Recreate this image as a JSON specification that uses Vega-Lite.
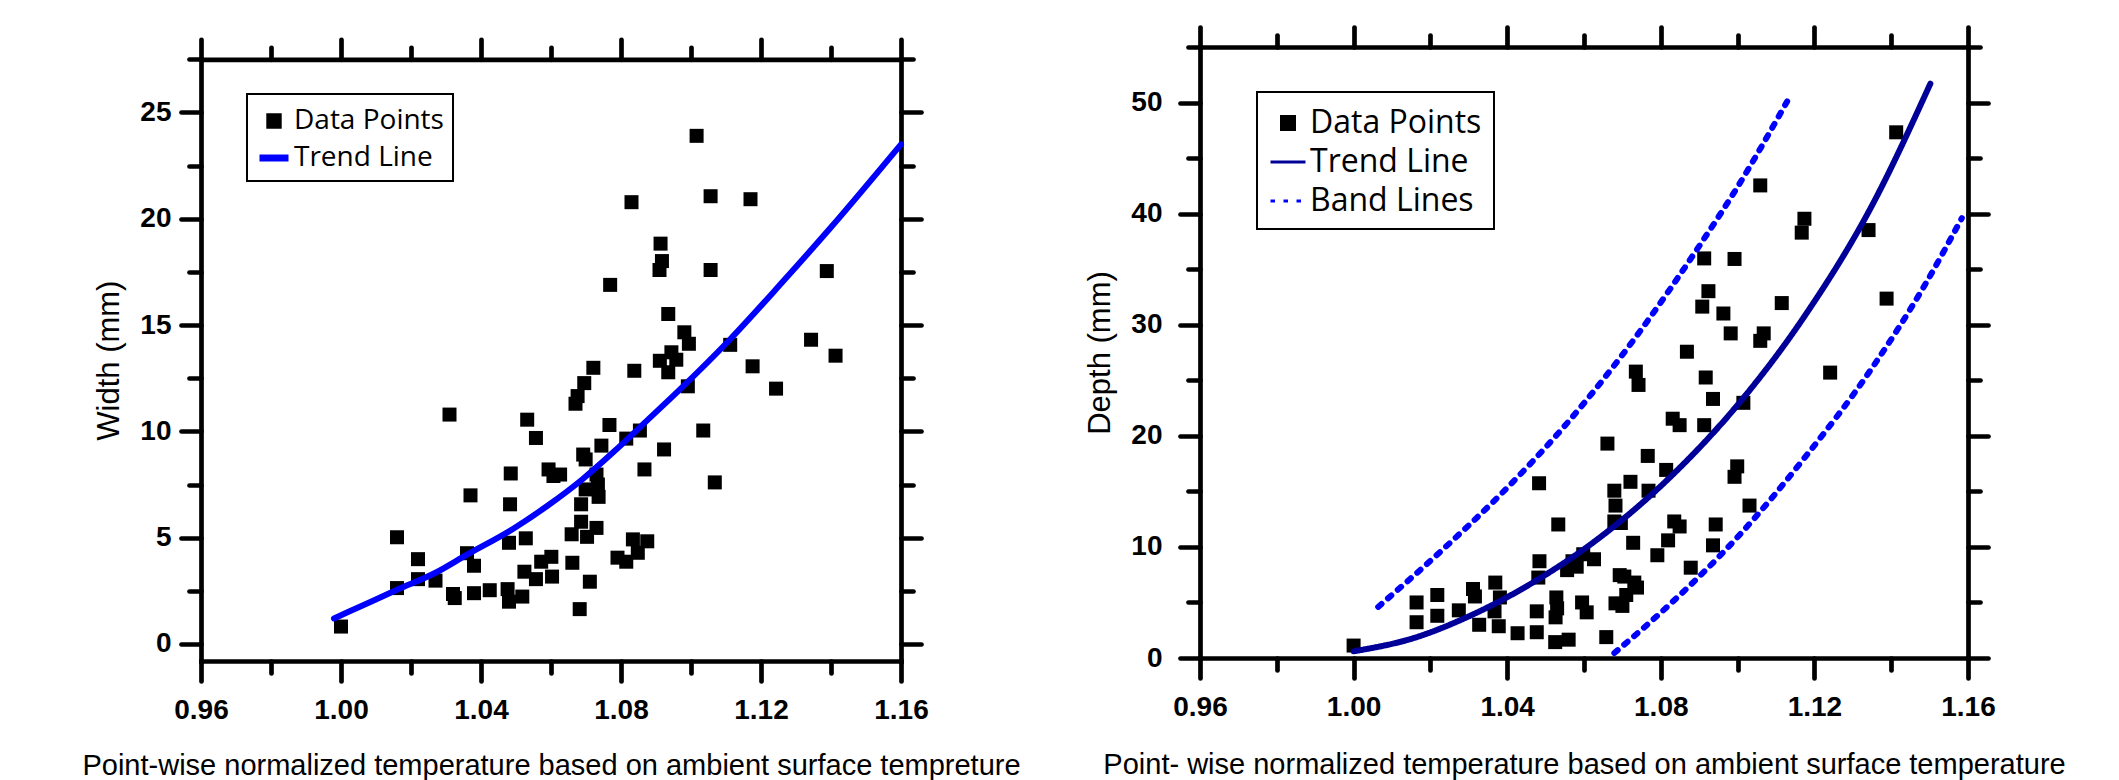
{
  "$schema": "https://vega.github.io/schema/vega-lite/v6.json",
  "padding": {"left": 81, "top": 24, "right": 0, "bottom": 0},
  "background": "white",
  "spacing": 63,
  "align": "none",
  "config": {"view": {"stroke": null}, "axis": {"grid": false}, "legend": {"strokeWidth": 2}},
  "resolve": {"scale": {"x": "independent", "y": "independent", "color": "independent", "shape": "independent", "strokeDash": "independent"}, "legend": {"color": "independent", "shape": "independent", "strokeDash": "independent"}},
  "datasets": {
    "width_points": [
      {"t": 1.000, "w": 0.82}, {"t": 1.016, "w": 5.02}, {"t": 1.016, "w": 2.63}, {"t": 1.022, "w": 3.99}, {"t": 1.022, "w": 3.05},
      {"t": 1.027, "w": 2.98}, {"t": 1.031, "w": 10.79}, {"t": 1.032, "w": 2.35}, {"t": 1.0325, "w": 2.16}, {"t": 1.036, "w": 4.27},
      {"t": 1.038, "w": 3.68}, {"t": 1.037, "w": 6.99}, {"t": 1.038, "w": 2.39}, {"t": 1.0425, "w": 2.53}, {"t": 1.0476, "w": 2.58},
      {"t": 1.048, "w": 1.99}, {"t": 1.048, "w": 4.76}, {"t": 1.0483, "w": 6.57}, {"t": 1.0485, "w": 8.02}, {"t": 1.0518, "w": 2.23},
      {"t": 1.0528, "w": 4.97}, {"t": 1.0524, "w": 3.40}, {"t": 1.0532, "w": 10.55}, {"t": 1.0557, "w": 9.69}, {"t": 1.0557, "w": 3.05},
      {"t": 1.0572, "w": 3.87}, {"t": 1.0601, "w": 4.10}, {"t": 1.0603, "w": 3.17}, {"t": 1.0593, "w": 8.21}, {"t": 1.0607, "w": 7.90},
      {"t": 1.0626, "w": 7.97}, {"t": 1.0661, "w": 3.82}, {"t": 1.0659, "w": 5.16}, {"t": 1.0670, "w": 11.30}, {"t": 1.0676, "w": 11.66},
      {"t": 1.0682, "w": 1.64}, {"t": 1.0686, "w": 5.75}, {"t": 1.0686, "w": 6.57}, {"t": 1.0692, "w": 8.91}, {"t": 1.0695, "w": 12.27},
      {"t": 1.0699, "w": 8.68}, {"t": 1.0699, "w": 7.27}, {"t": 1.0703, "w": 5.04}, {"t": 1.0711, "w": 2.93}, {"t": 1.0721, "w": 12.99},
      {"t": 1.0730, "w": 7.97}, {"t": 1.0734, "w": 7.50}, {"t": 1.0736, "w": 6.92}, {"t": 1.0730, "w": 5.46}, {"t": 1.0744, "w": 9.33},
      {"t": 1.0767, "w": 10.30}, {"t": 1.0769, "w": 16.89}, {"t": 1.0790, "w": 4.06}, {"t": 1.0815, "w": 3.87}, {"t": 1.0815, "w": 9.66},
      {"t": 1.0830, "w": 20.78}, {"t": 1.0838, "w": 12.85}, {"t": 1.0834, "w": 4.92}, {"t": 1.0848, "w": 4.29}, {"t": 1.0854, "w": 10.04},
      {"t": 1.0867, "w": 8.21}, {"t": 1.0875, "w": 4.83}, {"t": 1.0910, "w": 17.59}, {"t": 1.0913, "w": 18.83}, {"t": 1.0917, "w": 18.01},
      {"t": 1.0923, "w": 9.15}, {"t": 1.0911, "w": 13.32}, {"t": 1.0935, "w": 15.52}, {"t": 1.0935, "w": 12.78}, {"t": 1.0944, "w": 13.72},
      {"t": 1.0958, "w": 13.37}, {"t": 1.0981, "w": 14.66}, {"t": 1.0994, "w": 14.12}, {"t": 1.0991, "w": 12.12}, {"t": 1.1016, "w": 23.90},
      {"t": 1.1035, "w": 10.04}, {"t": 1.1056, "w": 21.06}, {"t": 1.1056, "w": 17.59}, {"t": 1.1068, "w": 7.60}, {"t": 1.1112, "w": 14.07},
      {"t": 1.1170, "w": 20.92}, {"t": 1.1176, "w": 13.06}, {"t": 1.1243, "w": 12.01}, {"t": 1.1343, "w": 14.31}, {"t": 1.1388, "w": 17.54},
      {"t": 1.1413, "w": 13.56}
    ],
    "width_trend": [
      {"t": 0.998, "w": 1.2}, {"t": 1.006, "w": 1.8}, {"t": 1.016, "w": 2.55}, {"t": 1.027, "w": 3.35}, {"t": 1.036, "w": 4.2},
      {"t": 1.049, "w": 5.4}, {"t": 1.059, "w": 6.5}, {"t": 1.069, "w": 7.75}, {"t": 1.078, "w": 9.05}, {"t": 1.088, "w": 10.6},
      {"t": 1.097, "w": 12.0}, {"t": 1.111, "w": 14.3}, {"t": 1.126, "w": 17.0}, {"t": 1.14, "w": 19.6}, {"t": 1.16, "w": 23.5}
    ],
    "depth_points": [
      {"t": 1.000, "d": 1.12}, {"t": 1.0164, "d": 5.00}, {"t": 1.0164, "d": 3.22}, {"t": 1.0218, "d": 5.67}, {"t": 1.0218, "d": 3.80},
      {"t": 1.0274, "d": 4.29}, {"t": 1.0311, "d": 6.21}, {"t": 1.0316, "d": 5.54}, {"t": 1.0327, "d": 2.99}, {"t": 1.0369, "d": 6.79},
      {"t": 1.0381, "d": 5.45}, {"t": 1.0367, "d": 4.20}, {"t": 1.0378, "d": 2.86}, {"t": 1.0427, "d": 2.23}, {"t": 1.0477, "d": 4.20},
      {"t": 1.0477, "d": 2.32}, {"t": 1.0481, "d": 7.24}, {"t": 1.0484, "d": 8.71}, {"t": 1.0483, "d": 15.73}, {"t": 1.0525, "d": 1.43},
      {"t": 1.0528, "d": 5.45}, {"t": 1.0526, "d": 3.66}, {"t": 1.0530, "d": 4.47}, {"t": 1.0533, "d": 12.02}, {"t": 1.0560, "d": 1.65},
      {"t": 1.0556, "d": 7.91}, {"t": 1.0581, "d": 8.22}, {"t": 1.0570, "d": 8.71}, {"t": 1.0595, "d": 5.00}, {"t": 1.0607, "d": 4.11},
      {"t": 1.0598, "d": 9.34}, {"t": 1.0626, "d": 8.89}, {"t": 1.0658, "d": 1.88}, {"t": 1.0661, "d": 19.30}, {"t": 1.0679, "d": 15.06},
      {"t": 1.0682, "d": 4.92}, {"t": 1.0693, "d": 7.46}, {"t": 1.0682, "d": 13.72}, {"t": 1.0679, "d": 12.29}, {"t": 1.0696, "d": 12.15},
      {"t": 1.0700, "d": 4.69}, {"t": 1.0710, "d": 5.67}, {"t": 1.0705, "d": 7.33}, {"t": 1.0721, "d": 15.86}, {"t": 1.0731, "d": 6.79},
      {"t": 1.0728, "d": 10.37}, {"t": 1.0738, "d": 6.34}, {"t": 1.0735, "d": 25.78}, {"t": 1.0742, "d": 24.58}, {"t": 1.0766, "d": 18.19},
      {"t": 1.0768, "d": 15.06}, {"t": 1.0791, "d": 9.25}, {"t": 1.0814, "d": 16.93}, {"t": 1.0819, "d": 10.59}, {"t": 1.0831, "d": 21.54},
      {"t": 1.0835, "d": 12.29}, {"t": 1.0849, "d": 11.84}, {"t": 1.0849, "d": 20.96}, {"t": 1.0868, "d": 27.57}, {"t": 1.0878, "d": 8.13},
      {"t": 1.0913, "d": 35.97}, {"t": 1.0908, "d": 31.63}, {"t": 1.0913, "d": 20.96}, {"t": 1.0917, "d": 25.25}, {"t": 1.0924, "d": 33.02},
      {"t": 1.0936, "d": 23.32}, {"t": 1.0936, "d": 10.14}, {"t": 1.0943, "d": 12.02}, {"t": 1.0963, "d": 31.01}, {"t": 1.0982, "d": 29.22},
      {"t": 1.0992, "d": 35.92}, {"t": 1.0992, "d": 16.31}, {"t": 1.0999, "d": 17.25}, {"t": 1.1015, "d": 22.97}, {"t": 1.1031, "d": 13.72},
      {"t": 1.1059, "d": 42.54}, {"t": 1.1059, "d": 28.55}, {"t": 1.1068, "d": 29.22}, {"t": 1.1115, "d": 31.95}, {"t": 1.1167, "d": 38.29},
      {"t": 1.1174, "d": 39.54}, {"t": 1.1241, "d": 25.69}, {"t": 1.1341, "d": 38.52}, {"t": 1.1388, "d": 32.35}, {"t": 1.1413, "d": 47.32}
    ],
    "depth_trend": [
      {"t": 1.000, "d": 0.6}, {"t": 1.0157, "d": 1.8}, {"t": 1.0297, "d": 3.7}, {"t": 1.0472, "d": 6.9}, {"t": 1.0647, "d": 11.0},
      {"t": 1.0822, "d": 16.2}, {"t": 1.0998, "d": 22.7}, {"t": 1.1173, "d": 30.7}, {"t": 1.1348, "d": 40.6}, {"t": 1.1502, "d": 51.7}
    ],
    "depth_band_upper": [
      {"t": 1.0064, "d": 4.6}, {"t": 1.0227, "d": 9.6}, {"t": 1.0385, "d": 14.8}, {"t": 1.056, "d": 21.3}, {"t": 1.0735, "d": 28.9},
      {"t": 1.091, "d": 37.6}, {"t": 1.0998, "d": 42.3}, {"t": 1.1129, "d": 50.1}
    ],
    "depth_band_lower": [
      {"t": 1.0679, "d": 0.45}, {"t": 1.0822, "d": 4.78}, {"t": 1.0998, "d": 10.81}, {"t": 1.1173, "d": 17.96}, {"t": 1.1348, "d": 26.0},
      {"t": 1.1488, "d": 33.6}, {"t": 1.1584, "d": 39.6}
    ]
  },
  "hconcat": [
    {
      "width": 700,
      "height": 614,
      "resolve": {"axis": {"x": "independent", "y": "independent"}},
      "layer": [
        {
          "data": {"name": "width_points"},
          "mark": {"type": "point", "filled": true, "size": 2331, "opacity": 1},
          "encoding": {
            "x": {
              "field": "t", "type": "quantitative",
              "scale": {"domain": [0.96, 1.16], "nice": false, "zero": false},
              "axis": {
                "orient": "bottom",
                "values": [0.96, 0.98, 1.0, 1.02, 1.04, 1.06, 1.08, 1.1, 1.12, 1.14, 1.16],
                "labelExpr": "abs(datum.value*25 - round(datum.value*25)) < 0.000001 ? format(datum.value, '.2f') : ''",
                "tickSize": {"condition": {"test": "abs(datum.value*25 - round(datum.value*25)) < 0.000001", "value": 20}, "value": 12},
                "tickWidth": 4.7, "tickColor": "black", "tickCap": "round",
                "domain": true, "domainWidth": 4.7, "domainColor": "black", "domainCap": "square",
                "labelFont": "Liberation Sans", "labelFontWeight": "bold", "labelFontSize": 28, "labelColor": "black",
                "labelPadding": 15, "labelFlush": false, "labelOverlap": false,
                "title": "Point-wise normalized temperature based on ambient surface tempreture",
                "titleFont": "Liberation Sans", "titleFontWeight": "normal", "titleFontSize": 29, "titleColor": "black",
                "titlePadding": 27, "titleLimit": 3000, "grid": false
              }
            },
            "y": {
              "field": "w", "type": "quantitative",
              "scale": {"domain": [-0.8, 27.5], "range": [614, 12.3], "nice": false, "zero": false},
              "axis": {
                "orient": "left",
                "values": [0, 2.5, 5, 7.5, 10, 12.5, 15, 17.5, 20, 22.5, 25, 27.5],
                "labelExpr": "datum.value % 5 === 0 ? format(datum.value, 'd') : ''",
                "tickSize": {"condition": {"test": "datum.value % 5 === 0", "value": 20}, "value": 12},
                "tickWidth": 4.7, "tickColor": "black", "tickCap": "round",
                "domain": true, "domainWidth": 4.7, "domainColor": "black", "domainCap": "square",
                "labelFont": "Liberation Sans", "labelFontWeight": "bold", "labelFontSize": 28, "labelColor": "black",
                "labelPadding": 10, "labelFlush": false, "labelOverlap": false,
                "title": "Width (mm)",
                "titleFont": "Liberation Sans", "titleFontWeight": "normal", "titleFontSize": 31, "titleColor": "black",
                "titlePadding": 14, "grid": false
              }
            },
            "color": {
              "datum": "Data Points", "type": "nominal",
              "scale": {"domain": ["Data Points", "Trend Line"], "range": ["#000000", "#0000ff"]},
              "legend": {
                "orient": "none", "legendX": 46, "legendY": 47, "title": null,
                "labelFont": "Open Sans", "labelFontSize": 28, "labelColor": "black", "labelLimit": 500, "labelOffset": 2,
                "symbolSize": 841, "symbolStrokeWidth": 7, "rowPadding": 0, "padding": 9,
                "strokeColor": "black", "symbolOpacity": 1
              }
            },
            "shape": {
              "datum": "Data Points", "type": "nominal",
              "scale": {"domain": ["Data Points", "Trend Line"], "range": ["M-0.29,-0.29H0.29V0.29H-0.29Z", "stroke"]}
            }
          }
        },
        {
          "data": {"name": "width_trend"},
          "mark": {"type": "line", "strokeWidth": 6, "strokeCap": "round", "interpolate": "monotone"},
          "encoding": {
            "x": {
              "field": "t", "type": "quantitative",
              "scale": {"domain": [0.96, 1.16], "nice": false, "zero": false},
              "axis": {
                "orient": "top", "offset": -12.3,
                "values": [0.96, 0.98, 1.0, 1.02, 1.04, 1.06, 1.08, 1.1, 1.12, 1.14, 1.16],
                "labels": false,
                "tickSize": {"condition": {"test": "abs(datum.value*25 - round(datum.value*25)) < 0.000001", "value": 20}, "value": 12},
                "tickWidth": 4.7, "tickColor": "black", "tickCap": "round",
                "domain": true, "domainWidth": 4.7, "domainColor": "black", "domainCap": "square",
                "title": null, "grid": false
              }
            },
            "y": {
              "field": "w", "type": "quantitative",
              "scale": {"domain": [-0.8, 27.5], "range": [614, 12.3], "nice": false, "zero": false},
              "axis": {
                "orient": "right",
                "values": [0, 2.5, 5, 7.5, 10, 12.5, 15, 17.5, 20, 22.5, 25, 27.5],
                "labels": false,
                "tickSize": {"condition": {"test": "datum.value % 5 === 0", "value": 20}, "value": 12},
                "tickWidth": 4.7, "tickColor": "black", "tickCap": "round",
                "domain": true, "domainWidth": 4.7, "domainColor": "black", "domainCap": "square",
                "title": null, "grid": false
              }
            },
            "color": {
              "datum": "Trend Line", "type": "nominal",
              "scale": {"domain": ["Data Points", "Trend Line"], "range": ["#000000", "#0000ff"]}
            }
          }
        }
      ]
    },
    {
      "width": 768,
      "height": 611,
      "resolve": {"axis": {"x": "independent", "y": "independent"}},
      "layer": [
        {
          "data": {"name": "depth_points"},
          "mark": {"type": "point", "filled": true, "size": 1424, "opacity": 1},
          "encoding": {
            "x": {
              "field": "t", "type": "quantitative",
              "scale": {"domain": [0.96, 1.16], "nice": false, "zero": false},
              "axis": {
                "orient": "bottom",
                "values": [0.96, 0.98, 1.0, 1.02, 1.04, 1.06, 1.08, 1.1, 1.12, 1.14, 1.16],
                "labelExpr": "abs(datum.value*25 - round(datum.value*25)) < 0.000001 ? format(datum.value, '.2f') : ''",
                "tickSize": {"condition": {"test": "abs(datum.value*25 - round(datum.value*25)) < 0.000001", "value": 20}, "value": 12},
                "tickWidth": 4.7, "tickColor": "black", "tickCap": "round",
                "domain": true, "domainWidth": 4.7, "domainColor": "black", "domainCap": "square",
                "labelFont": "Liberation Sans", "labelFontWeight": "bold", "labelFontSize": 28, "labelColor": "black",
                "labelPadding": 15, "labelFlush": false, "labelOverlap": false,
                "title": "Point- wise normalized temperature based on ambient surface temperature",
                "titleFont": "Liberation Sans", "titleFontWeight": "normal", "titleFontSize": 29, "titleColor": "black",
                "titlePadding": 29, "titleLimit": 3000, "grid": false
              }
            },
            "y": {
              "field": "d", "type": "quantitative",
              "scale": {"domain": [0, 55], "nice": false, "zero": false},
              "axis": {
                "orient": "left",
                "values": [0, 5, 10, 15, 20, 25, 30, 35, 40, 45, 50, 55],
                "labelExpr": "datum.value % 10 === 0 ? format(datum.value, 'd') : ''",
                "tickSize": {"condition": {"test": "datum.value % 10 === 0", "value": 20}, "value": 12},
                "tickWidth": 4.7, "tickColor": "black", "tickCap": "round",
                "domain": true, "domainWidth": 4.7, "domainColor": "black", "domainCap": "square",
                "labelFont": "Liberation Sans", "labelFontWeight": "bold", "labelFontSize": 28, "labelColor": "black",
                "labelPadding": 18, "labelFlush": false, "labelOverlap": false,
                "title": "Depth (mm)",
                "titleFont": "Liberation Sans", "titleFontWeight": "normal", "titleFontSize": 31, "titleColor": "black",
                "titlePadding": 14, "grid": false
              }
            },
            "color": {
              "datum": "Data Points", "type": "nominal",
              "scale": {"domain": ["Data Points", "Trend Line", "Band Lines"], "range": ["#000000", "#000099", "#0000ff"]},
              "legend": {
                "orient": "none", "legendX": 57, "legendY": 45, "title": null,
                "labelFont": "Open Sans", "labelFontSize": 32, "labelColor": "black", "labelLimit": 500, "labelOffset": 3,
                "symbolSize": 1225, "symbolStrokeWidth": 3, "rowPadding": 4, "padding": 12,
                "strokeColor": "black", "symbolOpacity": 1
              }
            },
            "shape": {
              "datum": "Data Points", "type": "nominal",
              "scale": {"domain": ["Data Points", "Trend Line", "Band Lines"], "range": ["M-0.371,-0.371H0.371V0.371H-0.371Z", "stroke", "stroke"]}
            }
          }
        },
        {
          "data": {"name": "depth_trend"},
          "mark": {"type": "line", "strokeWidth": 6, "strokeCap": "round", "interpolate": "monotone"},
          "encoding": {
            "x": {
              "field": "t", "type": "quantitative",
              "scale": {"domain": [0.96, 1.16], "nice": false, "zero": false},
              "axis": {
                "orient": "top",
                "values": [0.96, 0.98, 1.0, 1.02, 1.04, 1.06, 1.08, 1.1, 1.12, 1.14, 1.16],
                "labels": false,
                "tickSize": {"condition": {"test": "abs(datum.value*25 - round(datum.value*25)) < 0.000001", "value": 20}, "value": 12},
                "tickWidth": 4.7, "tickColor": "black", "tickCap": "round",
                "domain": true, "domainWidth": 4.7, "domainColor": "black", "domainCap": "square",
                "title": null, "grid": false
              }
            },
            "y": {
              "field": "d", "type": "quantitative",
              "scale": {"domain": [0, 55], "nice": false, "zero": false},
              "axis": {
                "orient": "right",
                "values": [0, 5, 10, 15, 20, 25, 30, 35, 40, 45, 50, 55],
                "labels": false,
                "tickSize": {"condition": {"test": "datum.value % 10 === 0", "value": 20}, "value": 12},
                "tickWidth": 4.7, "tickColor": "black", "tickCap": "round",
                "domain": true, "domainWidth": 4.7, "domainColor": "black", "domainCap": "square",
                "title": null, "grid": false
              }
            },
            "color": {
              "datum": "Trend Line", "type": "nominal",
              "scale": {"domain": ["Data Points", "Trend Line", "Band Lines"], "range": ["#000000", "#000099", "#0000ff"]}
            },
            "strokeDash": {
              "datum": "Trend Line", "type": "nominal",
              "scale": {"domain": ["Data Points", "Trend Line", "Band Lines"], "range": [[1, 0], [1, 0], [4.5, 8.5]]}
            }
          }
        },
        {
          "data": {"name": "depth_band_upper"},
          "mark": {"type": "line", "strokeWidth": 6, "strokeCap": "round", "interpolate": "monotone"},
          "encoding": {
            "x": {"field": "t", "type": "quantitative", "scale": {"domain": [0.96, 1.16], "nice": false, "zero": false}, "axis": null},
            "y": {"field": "d", "type": "quantitative", "scale": {"domain": [0, 55], "nice": false, "zero": false}, "axis": null},
            "color": {
              "datum": "Band Lines", "type": "nominal",
              "scale": {"domain": ["Data Points", "Trend Line", "Band Lines"], "range": ["#000000", "#000099", "#0000ff"]}
            },
            "strokeDash": {
              "datum": "Band Lines", "type": "nominal",
              "scale": {"domain": ["Data Points", "Trend Line", "Band Lines"], "range": [[1, 0], [1, 0], [4.5, 8.5]]}
            }
          }
        },
        {
          "data": {"name": "depth_band_lower"},
          "mark": {"type": "line", "strokeWidth": 6, "strokeCap": "round", "interpolate": "monotone"},
          "encoding": {
            "x": {"field": "t", "type": "quantitative", "scale": {"domain": [0.96, 1.16], "nice": false, "zero": false}, "axis": null},
            "y": {"field": "d", "type": "quantitative", "scale": {"domain": [0, 55], "nice": false, "zero": false}, "axis": null},
            "color": {
              "datum": "Band Lines", "type": "nominal",
              "scale": {"domain": ["Data Points", "Trend Line", "Band Lines"], "range": ["#000000", "#000099", "#0000ff"]}
            },
            "strokeDash": {
              "datum": "Band Lines", "type": "nominal",
              "scale": {"domain": ["Data Points", "Trend Line", "Band Lines"], "range": [[1, 0], [1, 0], [4.5, 8.5]]}
            }
          }
        }
      ]
    }
  ]
}
